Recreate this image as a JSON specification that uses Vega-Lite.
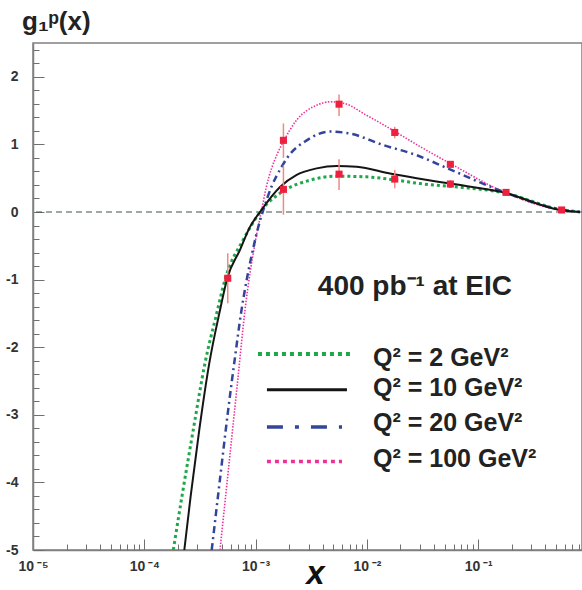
{
  "$schema": "https://vega.github.io/schema/vega-lite/v6.json",
  "width": 549,
  "height": 507,
  "autosize": {"type": "none"},
  "padding": {"left": 33, "top": 43, "right": 0, "bottom": 40},
  "background": "white",
  "config": {
    "font": "Liberation Sans",
    "view": {"stroke": "#808080", "strokeWidth": 1.5},
    "axis": {"grid": false, "domainColor": "#808080", "domainWidth": 1.5, "tickColor": "#707070", "tickWidth": 1, "labelColor": "#333333", "labelFont": "Liberation Sans", "labelFontWeight": "bold"}
  },
  "title": {"text": "g₁ᵖ(x)", "anchor": "start", "frame": "group", "dx": -11, "dy": 28, "offset": 15, "baseline": "alphabetic", "fontSize": 26, "fontWeight": "bold", "font": "Liberation Sans", "color": "#222222"},
  "datasets": {
    "curves": [
      {"s": "2", "x": 0.0001823, "y": -5},
      {"s": "2", "x": 0.0002182, "y": -4.2},
      {"s": "2", "x": 0.0002755, "y": -3.22},
      {"s": "2", "x": 0.0003511, "y": -2.235},
      {"s": "2", "x": 0.0004472, "y": -1.5},
      {"s": "2", "x": 0.0005311, "y": -1.0},
      {"s": "2", "x": 0.0007753, "y": -0.41},
      {"s": "2", "x": 0.001134, "y": 0.03},
      {"s": "2", "x": 0.001837, "y": 0.325},
      {"s": "2", "x": 0.003083, "y": 0.47},
      {"s": "2", "x": 0.005354, "y": 0.53},
      {"s": "2", "x": 0.009959, "y": 0.52},
      {"s": "2", "x": 0.01852, "y": 0.47},
      {"s": "2", "x": 0.03, "y": 0.42},
      {"s": "2", "x": 0.0558, "y": 0.38},
      {"s": "2", "x": 0.1681, "y": 0.285},
      {"s": "2", "x": 0.543, "y": 0.04},
      {"s": "2", "x": 0.8214, "y": 0},
      {"s": "10", "x": 0.0002288, "y": -5},
      {"s": "10", "x": 0.0002611, "y": -4.2},
      {"s": "10", "x": 0.000312, "y": -3.22},
      {"s": "10", "x": 0.0003837, "y": -2.235},
      {"s": "10", "x": 0.000472, "y": -1.5},
      {"s": "10", "x": 0.0005568, "y": -0.98},
      {"s": "10", "x": 0.0007241, "y": -0.56},
      {"s": "10", "x": 0.0008905, "y": -0.22},
      {"s": "10", "x": 0.001095, "y": 0},
      {"s": "10", "x": 0.001657, "y": 0.37},
      {"s": "10", "x": 0.00234, "y": 0.55},
      {"s": "10", "x": 0.00354, "y": 0.645},
      {"s": "10", "x": 0.005354, "y": 0.68},
      {"s": "10", "x": 0.0081, "y": 0.67},
      {"s": "10", "x": 0.01612, "y": 0.57},
      {"s": "10", "x": 0.02802, "y": 0.5},
      {"s": "10", "x": 0.0558, "y": 0.42},
      {"s": "10", "x": 0.1681, "y": 0.29},
      {"s": "10", "x": 0.543, "y": 0.03},
      {"s": "10", "x": 0.8214, "y": 0},
      {"s": "20", "x": 0.0004033, "y": -5},
      {"s": "20", "x": 0.0004787, "y": -3.95},
      {"s": "20", "x": 0.0005649, "y": -2.95},
      {"s": "20", "x": 0.0006529, "y": -2.15},
      {"s": "20", "x": 0.0007392, "y": -1.5},
      {"s": "20", "x": 0.0008369, "y": -0.98},
      {"s": "20", "x": 0.0009476, "y": -0.55},
      {"s": "20", "x": 0.0010575, "y": -0.22},
      {"s": "20", "x": 0.001173, "y": 0.03},
      {"s": "20", "x": 0.001395, "y": 0.38},
      {"s": "20", "x": 0.001716, "y": 0.67},
      {"s": "20", "x": 0.001902, "y": 0.79},
      {"s": "20", "x": 0.002877, "y": 1.06},
      {"s": "20", "x": 0.004661, "y": 1.19},
      {"s": "20", "x": 0.00705, "y": 1.16},
      {"s": "20", "x": 0.01404, "y": 0.99},
      {"s": "20", "x": 0.02802, "y": 0.84},
      {"s": "20", "x": 0.0558, "y": 0.63},
      {"s": "20", "x": 0.1681, "y": 0.3},
      {"s": "20", "x": 0.543, "y": 0.04},
      {"s": "20", "x": 0.8214, "y": 0},
      {"s": "100", "x": 0.0004787, "y": -5},
      {"s": "100", "x": 0.000542, "y": -4.15},
      {"s": "100", "x": 0.0006138, "y": -3.3},
      {"s": "100", "x": 0.0006948, "y": -2.45},
      {"s": "100", "x": 0.0008031, "y": -1.45},
      {"s": "100", "x": 0.0009876, "y": -0.46},
      {"s": "100", "x": 0.001134, "y": 0.03},
      {"s": "100", "x": 0.00124, "y": 0.35},
      {"s": "100", "x": 0.001395, "y": 0.65},
      {"s": "100", "x": 0.001557, "y": 0.85},
      {"s": "100", "x": 0.001774, "y": 1.04},
      {"s": "100", "x": 0.00234, "y": 1.36},
      {"s": "100", "x": 0.00354, "y": 1.58},
      {"s": "100", "x": 0.004661, "y": 1.63},
      {"s": "100", "x": 0.006138, "y": 1.61},
      {"s": "100", "x": 0.009959, "y": 1.43},
      {"s": "100", "x": 0.01788, "y": 1.19},
      {"s": "100", "x": 0.0321, "y": 0.94},
      {"s": "100", "x": 0.0558, "y": 0.72},
      {"s": "100", "x": 0.1681, "y": 0.3},
      {"s": "100", "x": 0.543, "y": 0.03},
      {"s": "100", "x": 0.8214, "y": 0}
    ],
    "points": [
      {"x": 0.000562, "y": -0.98, "lo": -1.35, "hi": -0.61},
      {"x": 0.001778, "y": 1.06, "lo": 0.8, "hi": 1.31},
      {"x": 0.001778, "y": 0.335, "lo": -0.04, "hi": 0.69},
      {"x": 0.00562, "y": 1.595, "lo": 1.42, "hi": 1.74},
      {"x": 0.00562, "y": 0.56, "lo": 0.325, "hi": 0.78},
      {"x": 0.01778, "y": 1.177, "lo": 1.09, "hi": 1.26},
      {"x": 0.01778, "y": 0.487, "lo": 0.35, "hi": 0.62},
      {"x": 0.0562, "y": 0.705, "lo": 0.66, "hi": 0.75},
      {"x": 0.0562, "y": 0.414, "lo": 0.36, "hi": 0.47},
      {"x": 0.1778, "y": 0.29, "lo": 0.26, "hi": 0.32},
      {"x": 0.562, "y": 0.03, "lo": 0.01, "hi": 0.05}
    ]
  },
  "layer": [
    {
      "data": {"values": [{}]},
      "mark": {"type": "rule", "color": "#3a5050", "strokeDash": [6, 4], "strokeWidth": 1},
      "encoding": {"y": {"datum": 0, "type": "quantitative", "scale": {"domain": [-5, 2.5], "nice": false, "zero": false}, "axis": null}}
    },
    {
      "data": {"name": "curves"},
      "transform": [{"filter": "datum.s == '2'"}],
      "mark": {"type": "line", "color": "#1fa84a", "strokeDash": [3, 3], "strokeWidth": 3, "interpolate": "monotone", "clip": true},
      "encoding": {
        "x": {"field": "x", "type": "quantitative", "scale": {"type": "log", "domain": [0.00001, 0.8561], "nice": false},
          "axis": {"orient": "bottom", "values": [0.00001, 0.0001, 0.001, 0.01, 0.1], "tickSize": -11, "labelPadding": 20, "labelFontSize": 14, "labelBaseline": "top", "labelFlush": false, "labelOverlap": false,
            "labelExpr": "datum.value < 5e-5 ? '10\u2009⁻⁵' : datum.value < 5e-4 ? '10\u2009⁻⁴' : datum.value < 5e-3 ? '10\u2009⁻³' : datum.value < 5e-2 ? '10\u2009⁻²' : '10\u2009⁻¹'",
            "title": "x", "titleFontSize": 33, "titleFontStyle": "italic", "titleFontWeight": "bold", "titleColor": "#111111", "titleX": 282, "titleY": 33, "titleBaseline": "alphabetic", "titleAlign": "center"}},
        "y": {"field": "y", "type": "quantitative", "scale": {"domain": [-5, 2.5], "nice": false, "zero": false},
          "axis": {"orient": "left", "values": [-5, -4, -3, -2, -1, 0, 1, 2], "tickSize": -11, "labelPadding": 26, "labelFontSize": 14, "labelFlush": false, "labelOverlap": false, "title": null,
            "labelExpr": "datum.value < 0 ? '-' + abs(datum.value) : '' + datum.value"}}
      }
    },
    {
      "data": {"name": "curves"},
      "transform": [{"filter": "datum.s == '100'"}],
      "mark": {"type": "line", "color": "#f0309a", "strokeDash": [1.5, 1.5], "strokeWidth": 1.6, "interpolate": "monotone", "clip": true},
      "encoding": {
        "x": {"field": "x", "type": "quantitative", "scale": {"type": "log", "domain": [0.00001, 0.8561], "nice": false}, "axis": null},
        "y": {"field": "y", "type": "quantitative", "scale": {"domain": [-5, 2.5], "nice": false, "zero": false}, "axis": null}
      }
    },
    {
      "data": {"name": "curves"},
      "transform": [{"filter": "datum.s == '20'"}],
      "mark": {"type": "line", "color": "#33449c", "strokeDash": [7, 4, 2, 4], "strokeWidth": 2.5, "interpolate": "monotone", "clip": true},
      "encoding": {
        "x": {"field": "x", "type": "quantitative", "scale": {"type": "log", "domain": [0.00001, 0.8561], "nice": false}, "axis": null},
        "y": {"field": "y", "type": "quantitative", "scale": {"domain": [-5, 2.5], "nice": false, "zero": false}, "axis": null}
      }
    },
    {
      "data": {"name": "curves"},
      "transform": [{"filter": "datum.s == '10'"}],
      "mark": {"type": "line", "color": "#151515", "strokeWidth": 2, "interpolate": "monotone", "clip": true},
      "encoding": {
        "x": {"field": "x", "type": "quantitative", "scale": {"type": "log", "domain": [0.00001, 0.8561], "nice": false}, "axis": null},
        "y": {"field": "y", "type": "quantitative", "scale": {"domain": [-5, 2.5], "nice": false, "zero": false}, "axis": null}
      }
    },
    {
      "data": {"name": "points"},
      "mark": {"type": "rule", "color": "#f08a80", "strokeWidth": 1.5},
      "encoding": {
        "x": {"field": "x", "type": "quantitative", "scale": {"type": "log", "domain": [0.00001, 0.8561], "nice": false},
          "axis": {"orient": "bottom", "values": [0.00002, 0.00003, 0.00004, 0.00005, 0.00006, 0.00007, 0.00008, 0.00009, 0.0002, 0.0003, 0.0004, 0.0005, 0.0006, 0.0007, 0.0008, 0.0009, 0.002, 0.003, 0.004, 0.005, 0.006, 0.007, 0.008, 0.009, 0.02, 0.03, 0.04, 0.05, 0.06, 0.07, 0.08, 0.09, 0.2, 0.3, 0.4, 0.5, 0.6, 0.7, 0.8], "tickSize": -6, "labels": false, "domain": false, "title": null}},
        "y": {"field": "lo", "type": "quantitative", "scale": {"domain": [-5, 2.5], "nice": false, "zero": false},
          "axis": {"orient": "left", "values": [-4.8, -4.6, -4.4, -4.2, -3.8, -3.6, -3.4, -3.2, -2.8, -2.6, -2.4, -2.2, -1.8, -1.6, -1.4, -1.2, -0.8, -0.6, -0.4, -0.2, 0.2, 0.4, 0.6, 0.8, 1.2, 1.4, 1.6, 1.8, 2.2, 2.4], "tickSize": -6, "labels": false, "domain": false, "title": null}},
        "y2": {"field": "hi"}
      }
    },
    {
      "data": {"name": "points"},
      "mark": {"type": "square", "color": "#ee2040", "size": 50, "opacity": 1},
      "encoding": {
        "x": {"field": "x", "type": "quantitative", "scale": {"type": "log", "domain": [0.00001, 0.8561], "nice": false}, "axis": null},
        "y": {"field": "y", "type": "quantitative", "scale": {"domain": [-5, 2.5], "nice": false, "zero": false}, "axis": null}
      }
    },
    {
      "data": {"values": [{}]},
      "layer": [
        {
          "mark": {"type": "text", "text": "400 pb⁻¹ at EIC", "font": "Liberation Sans", "fontSize": 28, "fontWeight": "bold", "color": "#222222", "align": "center", "baseline": "middle"},
          "encoding": {
            "x": {"datum": 0.027, "type": "quantitative", "scale": {"type": "log", "domain": [0.00001, 0.8561], "nice": false}, "axis": null},
            "y": {"datum": -1.11, "type": "quantitative", "scale": {"domain": [-5, 2.5], "nice": false, "zero": false}, "axis": null}
          }
        },
        {
          "mark": {"type": "rule", "color": "#1fa84a", "strokeDash": [4, 4], "strokeWidth": 4},
          "encoding": {
            "x": {"datum": 0.00105, "type": "quantitative", "scale": {"type": "log", "domain": [0.00001, 0.8561], "nice": false}, "axis": null},
            "x2": {"datum": 0.00705},
            "y": {"datum": -2.1, "type": "quantitative", "scale": {"domain": [-5, 2.5], "nice": false, "zero": false}, "axis": null}
          }
        },
        {
          "mark": {"type": "rule", "color": "#151515", "strokeWidth": 3},
          "encoding": {
            "x": {"datum": 0.001264, "type": "quantitative", "scale": {"type": "log", "domain": [0.00001, 0.8561], "nice": false}, "axis": null},
            "x2": {"datum": 0.00662},
            "y": {"datum": -2.63, "type": "quantitative", "scale": {"domain": [-5, 2.5], "nice": false, "zero": false}, "axis": null}
          }
        },
        {
          "mark": {"type": "rule", "color": "#33449c", "strokeDash": [16, 12, 4, 12], "strokeWidth": 3.5},
          "encoding": {
            "x": {"datum": 0.001264, "type": "quantitative", "scale": {"type": "log", "domain": [0.00001, 0.8561], "nice": false}, "axis": null},
            "x2": {"datum": 0.00597},
            "y": {"datum": -3.18, "type": "quantitative", "scale": {"domain": [-5, 2.5], "nice": false, "zero": false}, "axis": null}
          }
        },
        {
          "mark": {"type": "rule", "color": "#f0309a", "strokeDash": [4, 4], "strokeWidth": 3.5},
          "encoding": {
            "x": {"datum": 0.001264, "type": "quantitative", "scale": {"type": "log", "domain": [0.00001, 0.8561], "nice": false}, "axis": null},
            "x2": {"datum": 0.00597},
            "y": {"datum": -3.69, "type": "quantitative", "scale": {"domain": [-5, 2.5], "nice": false, "zero": false}, "axis": null}
          }
        },
        {
          "mark": {"type": "text", "text": "Q² = 2 GeV²", "font": "Liberation Sans", "fontSize": 25, "fontWeight": "bold", "color": "#222222", "align": "left", "baseline": "middle"},
          "encoding": {
            "x": {"datum": 0.01135, "type": "quantitative", "scale": {"type": "log", "domain": [0.00001, 0.8561], "nice": false}, "axis": null},
            "y": {"datum": -2.16, "type": "quantitative", "scale": {"domain": [-5, 2.5], "nice": false, "zero": false}, "axis": null}
          }
        },
        {
          "mark": {"type": "text", "text": "Q² = 10 GeV²", "font": "Liberation Sans", "fontSize": 25, "fontWeight": "bold", "color": "#222222", "align": "left", "baseline": "middle"},
          "encoding": {
            "x": {"datum": 0.01135, "type": "quantitative", "scale": {"type": "log", "domain": [0.00001, 0.8561], "nice": false}, "axis": null},
            "y": {"datum": -2.6, "type": "quantitative", "scale": {"domain": [-5, 2.5], "nice": false, "zero": false}, "axis": null}
          }
        },
        {
          "mark": {"type": "text", "text": "Q² = 20 GeV²", "font": "Liberation Sans", "fontSize": 25, "fontWeight": "bold", "color": "#222222", "align": "left", "baseline": "middle"},
          "encoding": {
            "x": {"datum": 0.01135, "type": "quantitative", "scale": {"type": "log", "domain": [0.00001, 0.8561], "nice": false}, "axis": null},
            "y": {"datum": -3.12, "type": "quantitative", "scale": {"domain": [-5, 2.5], "nice": false, "zero": false}, "axis": null}
          }
        },
        {
          "mark": {"type": "text", "text": "Q² = 100 GeV²", "font": "Liberation Sans", "fontSize": 25, "fontWeight": "bold", "color": "#222222", "align": "left", "baseline": "middle"},
          "encoding": {
            "x": {"datum": 0.01135, "type": "quantitative", "scale": {"type": "log", "domain": [0.00001, 0.8561], "nice": false}, "axis": null},
            "y": {"datum": -3.66, "type": "quantitative", "scale": {"domain": [-5, 2.5], "nice": false, "zero": false}, "axis": null}
          }
        }
      ]
    }
  ],
  "resolve": {"axis": {"x": "independent", "y": "independent"}}
}
